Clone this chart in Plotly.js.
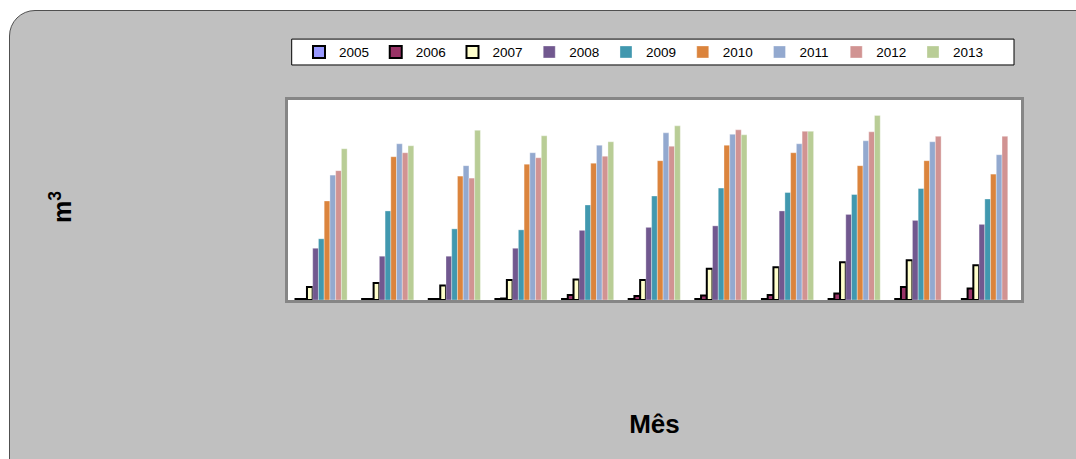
<!DOCTYPE html>
<html>
<head>
<meta charset="utf-8">
<script src="https://cdn.plot.ly/plotly-3.0.1.min.js"></script>
<style>
  html, body { margin: 0; padding: 0; background: #ffffff; overflow: hidden; }
  #frame { position: absolute; left: 9px; top: 10px; width: 1120px; height: 520px;
           background: #c0c0c0; border: 1px solid #505050; border-radius: 26px; }
  #chart { position: absolute; left: 0; top: 0; width: 1076px; height: 459px; }
</style>
</head>
<body>
<div id="frame"></div>
<div id="chart"></div>
<script>
// Categories (months) – tick labels are not shown in the reference
const months = ["Jan", "Fev", "Mar", "Abr", "Mai", "Jun", "Jul", "Ago", "Set", "Out", "Nov"];
const years = ["2005", "2006", "2007", "2008", "2009", "2010", "2011", "2012", "2013"];

// Series values (m³, relative units)
const v2005 = [1, 1, 1, 1, 1, 1, 1, 1, 1, 1, 1];
const v2006 = [1, 1, 1, 1.5, 5, 4, 4.5, 5, 6.5, 13, 11.5];
const v2007 = [13, 17, 14.5, 20, 20.5, 20, 31.5, 33, 38, 40, 35];
const v2008 = [52, 44, 44, 52, 70, 73, 74.5, 89.5, 86, 80, 76];
const v2009 = [61.5, 89.5, 71.5, 70.5, 95.5, 104.5, 112.5, 108, 106, 112, 101.5];
const v2010 = [99.5, 144, 124.5, 136.5, 137.5, 140, 155.5, 148, 135, 140, 126.5];
const v2011 = [125.5, 157, 135, 148, 155.5, 168, 166.5, 157, 160, 159, 146];
const v2012 = [130, 148, 122.5, 143, 144.5, 154.5, 171, 169.5, 169, 164.5, 164.5];
const v2013 = [152, 155, 170.5, 165, 159, 175, 166, 169.5, 185.5, null, null];

const seriesValues = [v2005, v2006, v2007, v2008, v2009, v2010, v2011, v2012, v2013];
const fillColors = ["#9999FF", "#993366", "#FFFFCC", "#71588F", "#4198AF", "#DB843D", "#93A9CF", "#D19392", "#B9CD96"];
const outlined = [true, true, true, false, false, false, false, false, false];

const traces = years.map((yr, i) => ({
  type: "bar",
  name: yr,
  x: months,
  y: seriesValues[i],
  marker: {
    color: fillColors[i],
    line: outlined[i] ? { color: "#000000", width: 2 } : { color: "rgba(255,255,255,0.55)", width: 0.6 }
  },
  hoverinfo: "x+y+name"
}));

const layout = {
  width: 1076,
  height: 459,
  margin: { l: 288, r: 55, t: 99.5, b: 158.5, pad: 0 },
  paper_bgcolor: "rgba(0,0,0,0)",
  plot_bgcolor: "#ffffff",
  font: { family: "Liberation Sans, Arial, sans-serif", color: "#000000" },
  barmode: "group",
  bargap: 0.225,
  bargroupgap: 0,
  showlegend: true,
  legend: {
    orientation: "h",
    x: 0.015, xanchor: "left",
    y: 1.239, yanchor: "middle",
    bgcolor: "rgba(0,0,0,0)",
    borderwidth: 0,
    entrywidth: 31.75,
    itemwidth: 30,
    font: { size: 13.5, color: "#000000", family: "Liberation Sans, Arial, sans-serif" },
    traceorder: "normal",
    itemclick: false, itemdoubleclick: false
  },
  shapes: [{
    type: "rect", xref: "paper", yref: "paper",
    x0: (291.7 - 288) / 733.3, x1: (1014.3 - 288) / 733.3,
    y0: (300.5 - 64.3) / 201, y1: (300.5 - 38.3) / 201,
    line: { color: "#000000", width: 1 },
    fillcolor: "#ffffff",
    layer: "below"
  }],
  xaxis: {
    type: "category",
    showticklabels: false,
    ticks: "",
    showgrid: false,
    zeroline: false,
    showline: true, mirror: true, linecolor: "#868686", linewidth: 2.5,
    title: { text: "Mês", font: { size: 26, family: "Liberation Sans, Arial, sans-serif", weight: "bold", color: "#000000" }, standoff: 114 },
    fixedrange: true
  },
  yaxis: {
    range: [0, 201],
    showticklabels: false,
    ticks: "",
    showgrid: false,
    zeroline: false,
    showline: true, mirror: true, linecolor: "#868686", linewidth: 2.5,
    title: { text: "<b>m<sup>3</sup></b>&nbsp;&nbsp;", font: { size: 25, family: "Liberation Sans, Arial, sans-serif", weight: "bold", color: "#000000" }, standoff: 207 },
    fixedrange: true
  }
};

Plotly.newPlot("chart", traces, layout, { displayModeBar: false, responsive: false });
</script>
</body>
</html>
